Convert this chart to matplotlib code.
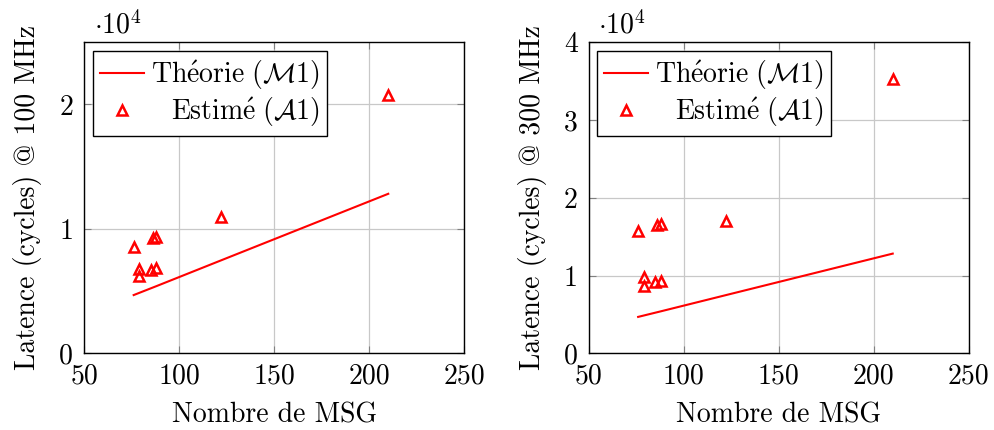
import matplotlib
matplotlib.use('Agg')
import matplotlib.pyplot as plt
from matplotlib.ticker import FuncFormatter, MultipleLocator

# values
msg = [76, 79, 79, 85, 88, 86, 88, 122, 210]
est_100 = [8560, 6750, 6230, 6690, 6880, 9240, 9370, 10920, 20800]
est_300 = [15780, 9780, 8660, 9180, 9270, 16510, 16640, 17070, 35260]
theo_msg = [76, 79, 85, 86, 88, 122, 210]
theo_cycles = [4680, 4860, 5220, 5280, 5400, 7470, 12820]

ylabels = ['Latence (cycles) @ 100 MHz', 'Latence (cycles) @ 300 MHz']
ylims = [25000, 40000]
# cmr10 has no é glyph, so the accent goes through mathtext
lab_theo = r'$\mathrm{Th\acute{e}orie}\ (\mathcal{M}1)$'
lab_est = r'$\mathrm{Estim\acute{e}}\ (\mathcal{A}1)$'

plt.rcParams['font.family'] = ['cmr10', 'DejaVu Serif']
plt.rcParams['mathtext.fontset'] = 'cm'
plt.rcParams['axes.unicode_minus'] = False
plt.rcParams['font.size'] = 20

fig = plt.figure(figsize=(9.95, 4.3), dpi=100)
ax1 = fig.add_axes([0.0847, 0.1784, 0.3819, 0.7233])
ax2 = fig.add_axes([0.5917, 0.1784, 0.3819, 0.7233])

for ax, est, ylab, ymax in zip([ax1, ax2], [est_100, est_300], ylabels, ylims):
    ax.plot(theo_msg, theo_cycles, color='red', lw=1.5, label=lab_theo)
    ax.plot(msg, est, ls='none', marker='^', ms=7.5, mfc='none', mec='red', mew=1.8,
            label=lab_est)
    ax.set_xlim(50, 250)
    ax.set_ylim(0, ymax)
    ax.xaxis.set_major_locator(MultipleLocator(50))
    ax.yaxis.set_major_locator(MultipleLocator(10000))
    ax.yaxis.set_major_formatter(FuncFormatter(lambda v, p: f'{v / 1e4:g}'))
    ax.grid(True, color='#c8c8c8', lw=0.9)
    ax.set_axisbelow(True)
    ax.tick_params(direction='in', top=True, right=True, color='0.5', length=5)
    ax.tick_params(axis='x', pad=7)
    ax.tick_params(axis='y', pad=8)
    for s in ax.spines.values():
        s.set_linewidth(1.0)
    ax.set_xlabel('Nombre de MSG', labelpad=9)
    ax.set_ylabel(ylab, labelpad=12)
    ax.text(0.025, 1.01, r'$\cdot 10^4$', transform=ax.transAxes, va='bottom', ha='left')
    leg = ax.legend(loc='upper left', fancybox=False, edgecolor='black', framealpha=1,
                    handlelength=1.6, handletextpad=0.25, labelspacing=0.12,
                    borderpad=0.25, borderaxespad=0.3)
    leg.get_frame().set_linewidth(1.0)
    # right-align the legend labels like pgfplots
    renderer = fig.canvas.get_renderer()
    texts = leg.get_texts()
    widths = [t.get_window_extent(renderer).width for t in texts]
    rows = leg._legend_handle_box.get_children()[0].get_children()
    for row, w in zip(rows, widths):
        row.sep += (max(widths) - w) * 72 / fig.dpi

fig.savefig('out.png', dpi=100)
